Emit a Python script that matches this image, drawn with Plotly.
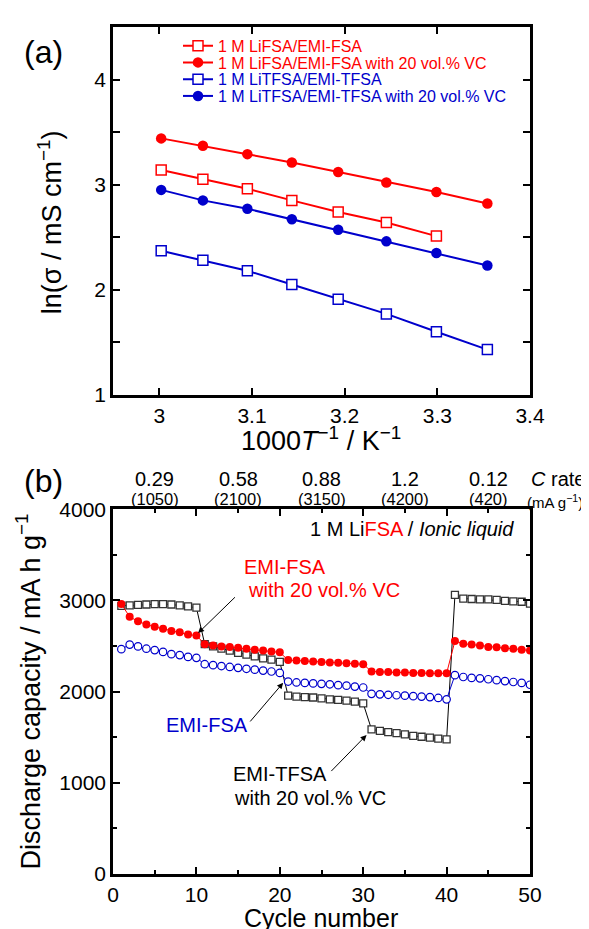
import plotly.graph_objects as go

# ---------------- data: panel (a) ----------------
inv_T = [3.002, 3.047, 3.095, 3.143, 3.193, 3.245, 3.299, 3.354]
ln_lifsa = [3.14, 3.05, 2.96, 2.85, 2.74, 2.64, 2.51]
ln_lifsa_vc = [3.44, 3.37, 3.29, 3.21, 3.12, 3.02, 2.93, 2.82]
ln_litfsa = [2.37, 2.28, 2.18, 2.05, 1.91, 1.77, 1.60, 1.43]
ln_litfsa_vc = [2.95, 2.85, 2.77, 2.67, 2.57, 2.46, 2.35, 2.23]
legend_names = ["1 M LiFSA/EMI-FSA", "1 M LiFSA/EMI-FSA with 20 vol.% VC",
                "1 M LiTFSA/EMI-TFSA", "1 M LiTFSA/EMI-TFSA with 20 vol.% VC"]

# ---------------- data: panel (b) ----------------
cycles = list(range(1, 51))
cap_tfsa_vc = [2940, 2945, 2950, 2955, 2960, 2960, 2955, 2945, 2935, 2920,
               2520, 2495, 2470, 2450, 2425, 2405, 2385, 2365, 2350, 2325,
               1955, 1945, 1940, 1935, 1925, 1915, 1910, 1900, 1890, 1870,
               1585, 1570, 1555, 1545, 1530, 1515, 1505, 1495, 1485, 1475,
               3060, 3020, 3015, 3010, 3010, 3005, 2995, 2990, 2985, 2965]
cap_fsa_vc = [2960, 2820, 2770, 2735, 2710, 2690, 2665, 2650, 2625, 2615,
              2520, 2505, 2495, 2490, 2480, 2470, 2460, 2450, 2440, 2430,
              2345, 2340, 2335, 2330, 2325, 2320, 2315, 2310, 2305, 2300,
              2220, 2215, 2215, 2210, 2210, 2205, 2205, 2200, 2200, 2200,
              2555, 2525, 2515, 2505, 2490, 2485, 2475, 2470, 2460, 2450]
cap_fsa = [2465, 2515, 2495, 2470, 2455, 2435, 2410, 2400, 2380, 2370,
           2300, 2290, 2280, 2270, 2260, 2250, 2240, 2230, 2220, 2205,
           2110, 2100, 2095, 2090, 2085, 2080, 2070, 2065, 2055, 2045,
           1975, 1970, 1965, 1960, 1955, 1950, 1945, 1940, 1930, 1915,
           2180, 2160, 2150, 2145, 2135, 2125, 2115, 2105, 2095, 2075]
rate_centers = [5, 15, 25, 35, 45]
c_rates = ["0.29", "0.58", "0.88", "1.2", "0.12"]
currents = ["(1050)", "(2100)", "(3150)", "(4200)", "(420)"]

RED = "#FF0000"
BLUE = "#0000CC"
FONT = "Liberation Sans, Arial, sans-serif"

# page (screenshot) coordinates; the page body adds an 8 px margin
OFF = 8
PAGE_W, PAGE_H = 589, 929
W, H = PAGE_W - OFF, PAGE_H - OFF
L, R, T, B = 113, 530, 15, 874          # plot area in page pixels
A_BOTTOM, B_TOP = 388, 504              # panel (a) bottom, panel (b) top


def px(xp):
    return (xp - L) / (R - L)


def py(yp):
    return (B - yp) / (B - T)


fig = go.Figure()

# panel (a)
specs = [
    (inv_T[:len(ln_lifsa)], ln_lifsa, RED, "square", False, "legend"),
    (inv_T, ln_lifsa_vc, RED, "circle", True, "legend2"),
    (inv_T, ln_litfsa, BLUE, "square", False, "legend3"),
    (inv_T, ln_litfsa_vc, BLUE, "circle", True, "legend4"),
]
for (xs, ys, col, sym, filled, lg), nm in zip(specs, legend_names):
    if filled:
        mk = dict(symbol=sym, size=10.5, color=col, line=dict(width=0))
    else:
        mk = dict(symbol=sym, size=10, color="white", line=dict(color=col, width=1.5))
    fig.add_trace(go.Scatter(x=xs, y=ys, mode="lines+markers",
                             name=f"<span style='color:{col}'>{nm}</span>",
                             line=dict(color=col, width=2), marker=mk,
                             legend=lg, xaxis="x", yaxis="y"))

# panel (b)
fig.add_trace(go.Scatter(x=cycles, y=cap_tfsa_vc, mode="lines+markers", showlegend=False,
                         line=dict(color="black", width=1),
                         marker=dict(symbol="square", size=7, color="white",
                                     line=dict(color="#333333", width=1.3)),
                         xaxis="x2", yaxis="y2"))
fig.add_trace(go.Scatter(x=cycles, y=cap_fsa, mode="lines+markers", showlegend=False,
                         line=dict(color=BLUE, width=1),
                         marker=dict(symbol="circle", size=7.5, color="white",
                                     line=dict(color=BLUE, width=1.2)),
                         xaxis="x2", yaxis="y2"))
fig.add_trace(go.Scatter(x=cycles, y=cap_fsa_vc, mode="lines+markers", showlegend=False,
                         line=dict(color=RED, width=1),
                         marker=dict(symbol="circle", size=8, color=RED),
                         xaxis="x2", yaxis="y2"))

axis_common = dict(showline=True, linecolor="black", linewidth=2.5, mirror="ticks",
                   ticks="inside", tickcolor="black", tickwidth=2, ticklen=7,
                   showgrid=False, zeroline=False,
                   tickfont=dict(family=FONT, size=21, color="black"))
minor_common = dict(ticks="inside", ticklen=4, tickcolor="black", tickwidth=2)

legend_rows = [34, 51, 68, 85]
leg_x = 178
legends = {}
for i, yrow in enumerate(legend_rows):
    key = "legend" if i == 0 else f"legend{i + 1}"
    legends[key] = dict(x=px(leg_x), y=py(yrow), xanchor="left", yanchor="middle",
                        bgcolor="rgba(0,0,0,0)", borderwidth=0,
                        font=dict(family=FONT, size=16), itemwidth=30)

fig.update_layout(
    width=W, height=H,
    margin=dict(l=L - OFF, r=W - (R - OFF), t=T - OFF, b=H - (B - OFF)),
    paper_bgcolor="white", plot_bgcolor="white",
    font=dict(family=FONT, color="black"),
    xaxis=dict(domain=[0, 1], anchor="y", range=[2.95, 3.4],
               tickvals=[3.0, 3.1, 3.2, 3.3, 3.4], ticktext=["3", "3.1", "3.2", "3.3", "3.4"],
               **axis_common),
    yaxis=dict(domain=[py(A_BOTTOM), 1], anchor="x", range=[1, 4.5],
               tickvals=[1, 2, 3, 4], ticktext=["1", "2", "3", "4"],
               minor=dict(dtick=0.5, **{**minor_common, "ticklen": 7}),
               **axis_common),
    xaxis2=dict(domain=[0, 1], anchor="y2", range=[0, 50], dtick=10,
                minor=dict(dtick=5, **minor_common),
                **axis_common),
    yaxis2=dict(domain=[0, py(B_TOP)], anchor="x2", range=[0, 4000], dtick=1000,
                minor=dict(dtick=500, **minor_common),
                **axis_common),
    **legends,
)

ann = []


def text(xp, yp, s, size, color="black", xanchor="center", angle=0):
    ann.append(dict(x=px(xp), y=py(yp), xref="paper", yref="paper", text=s,
                    showarrow=False, xanchor=xanchor, yanchor="middle",
                    textangle=angle, font=dict(family=FONT, size=size, color=color)))


# panel labels
text(43, 40, "(a)", 32)
text(43, 475, "(b)", 32)
# axis titles
text(50, 213, "ln(σ / mS cm<sup>−1</sup>)", 27, angle=-90)
text(321, 433, "1000<i>T</i><sup>−1</sup> / K<sup>−1</sup>", 27)
text(28, 689, "Discharge capacity / mA h g<sup>−1</sup>", 27, angle=-90)
text(321, 919, "Cycle number", 25)
# C rate labels
for c, r, i in zip(rate_centers, c_rates, currents):
    xp = L + (R - L) * c / 50
    text(xp, 473, r, 20)
    text(xp, 494, i, 16.5)
text(587, 473, "<i>C</i> rate", 20, xanchor="right")
text(585, 496, "(mA g<sup>−1</sup>)", 15, xanchor="right")
text(516, 524, f"1 M Li<span style='color:{RED}'>FSA</span> / <i>Ionic liquid</i>", 20,
     xanchor="right")
# series annotations
text(242, 563, "EMI-FSA", 20, RED, xanchor="left")
text(246, 586, "with 20 vol.% VC", 20, RED, xanchor="left")
text(164, 723, "EMI-FSA", 20, BLUE, xanchor="left")
text(231, 773, "EMI-TFSA", 20, "black", xanchor="left")
text(232, 797, "with 20 vol.% VC", 20, "black", xanchor="left")

# arrows (head at data point, tail near label) in data coordinates of panel (b)
arrows = [((10.2, 2641), (14.8, 3050)),
          ((20.4, 2096), (16.3, 1656)),
          ((30.4, 1524), (26.0, 1112))]
for (hx, hy), (tx, ty) in arrows:
    ann.append(dict(x=hx, y=hy, ax=tx, ay=ty, xref="x2", yref="y2", axref="x2", ayref="y2",
                    text="", showarrow=True, arrowhead=2, arrowsize=1.2, arrowwidth=1,
                    arrowcolor="black"))

fig.update_layout(annotations=ann)
fig.write_html("out.html")
